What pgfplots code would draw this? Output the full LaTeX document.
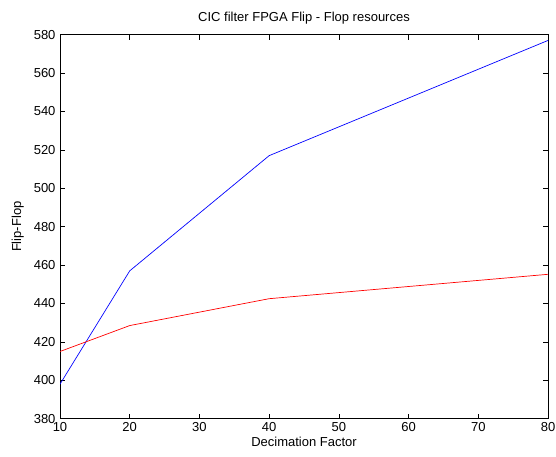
\documentclass[border=0pt]{standalone}
\usepackage{pgfplots}
\pgfplotsset{compat=1.18}
\usepackage{fontspec}
\setmainfont{Liberation Sans}
\begin{document}
\fontsize{13bp}{15bp}\selectfont
\begin{tikzpicture}[x=1bp,y=1bp]
\path[use as bounding box] (-60,-38.3) rectangle (496,418.7);
\begin{axis}[
  at={(0,0)}, anchor=origin,
  scale only axis,
  width=488bp, height=384bp,
  xmin=10, xmax=80, ymin=380, ymax=580,
  xtick={10,20,...,80}, ytick={380,400,...,580},
  tick align=inside,
  major tick length=5bp,
  tick style={black, line width=0.5pt},
  axis line style={black, line width=0.9pt},
  /pgf/number format/assume math mode=true,
  tick label style={font=\fontsize{13bp}{15bp}\selectfont},
  label style={font=\fontsize{13bp}{15bp}\selectfont},
  title style={font=\fontsize{13bp}{15bp}\selectfont},
  title={CIC filter FPGA Flip - Flop resources},
  xlabel={Decimation Factor},
  ylabel={Flip-Flop},
  every axis title/.append style={yshift=0bp},
  xlabel style={yshift=3bp},
  ylabel style={yshift=1bp},
  xticklabel style={yshift=1bp},
]
\addplot[blue, line width=0.7pt] coordinates {(10,398) (20,457) (40,517) (80,577)};
\addplot[red, line width=0.7pt] coordinates {(10,415) (20,428.5) (40,442.5) (80,455.2)};
\end{axis}
\end{tikzpicture}
\end{document}
